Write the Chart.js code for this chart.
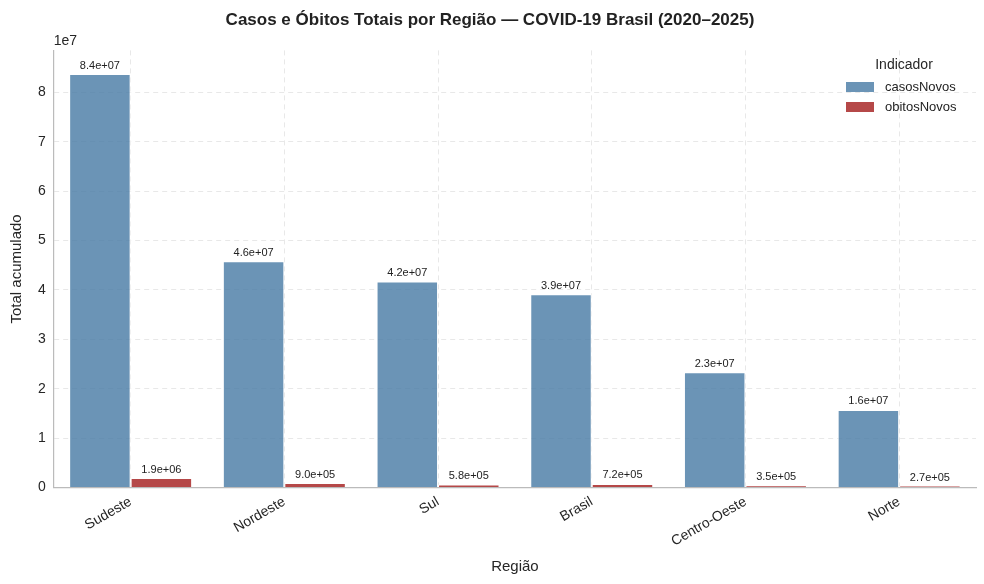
<!DOCTYPE html>
<html><head><meta charset="utf-8">
<script src="https://cdn.jsdelivr.net/npm/chart.js@4"></script>
<style>html,body{margin:0;background:#fff}#wrap{width:984px;height:584px}</style>
</head><body><div id="wrap"><canvas id="c"></canvas></div>
<script>
const regioes = ['Sudeste', 'Nordeste', 'Sul', 'Brasil', 'Centro-Oeste', 'Norte'];
const casosNovos = [8.37e7, 4.58e7, 4.17e7, 3.91e7, 2.33e7, 1.57e7];
const obitosNovos = [1.9e6, 9.0e5, 5.8e5, 7.2e5, 3.5e5, 2.7e5];
const yTicks = [0, 1, 2, 3, 4, 5, 6, 7, 8];

const font = "'Liberation Sans', Arial, sans-serif";
Chart.defaults.font.family = font;
Chart.defaults.color = '#262626';

// value labels above bars + "1e7" offset text + legend box
const extras = {
  id: 'extras',
  afterDatasetsDraw(chart) {
    const ctx = chart.ctx;
    ctx.save();
    ctx.font = '11px ' + font;
    ctx.fillStyle = '#222';
    ctx.textAlign = 'center';
    ctx.textBaseline = 'bottom';
    chart.data.datasets.forEach((ds, i) => {
      chart.getDatasetMeta(i).data.forEach((bar, j) => {
        ctx.fillText(ds.data[j].toExponential(1).replace(/e\+(\d)$/, 'e+0$1'), bar.x, bar.y - 3);
      });
    });
    const a = chart.chartArea;
    ctx.font = '14px ' + font;
    ctx.textAlign = 'left';
    ctx.fillStyle = '#262626';
    ctx.fillText('1e7', a.left, a.top - 2);
    // legend
    ctx.textAlign = 'center';
    ctx.textBaseline = 'middle';
    ctx.fillText('Indicador', 904, 65);
    ctx.font = '13px ' + font;
    ctx.textAlign = 'left';
    chart.data.datasets.forEach((ds, i) => {
      const y = 87 + i * 20;
      ctx.fillStyle = ds.backgroundColor;
      ctx.fillRect(846, y - 5, 28, 10);
      ctx.fillStyle = '#222';
      ctx.fillText(ds.label, 885, y);
    });
    ctx.restore();
  }
};

new Chart(document.getElementById('c'), {
  type: 'bar',
  data: {
    labels: regioes,
    datasets: [
      { label: 'casosNovos', data: casosNovos, backgroundColor: 'rgba(74,124,166,0.82)', borderColor: '#fff', borderWidth: 1 },
      { label: 'obitosNovos', data: obitosNovos, backgroundColor: '#b54848', borderColor: '#fff', borderWidth: 1 }
    ]
  },
  options: {
    responsive: true, maintainAspectRatio: false, animation: false,
    layout: { padding: { left: 4, right: 8, top: 0, bottom: 4 } },
    categoryPercentage: 0.8, barPercentage: 1.0,
    plugins: {
      legend: { display: false },
      tooltip: { enabled: false },
      title: { display: true, text: 'Casos e Óbitos Totais por Região — COVID-19 Brasil (2020–2025)',
        font: { size: 17, weight: 'bold' }, color: '#222', padding: { top: 10, bottom: 20 } }
    },
    scales: {
      x: {
        grid: { color: '#e8e8e8', offset: false, drawTicks: false },
        border: { color: '#bbb', width: 1.2, dash: [5, 4] },
        ticks: { maxRotation: 30, minRotation: 30, font: { size: 14 }, padding: 6 },
        title: { display: true, text: 'Região', font: { size: 15 }, padding: { top: 2 } }
      },
      y: {
        min: 0, max: 8.85e7,
        afterBuildTicks(axis) { axis.ticks = yTicks.map(v => ({ value: v * 1e7 })); },
        grid: { color: '#e8e8e8', drawTicks: false },
        border: { color: '#bbb', width: 1.2, dash: [5, 4] },
        ticks: { font: { size: 14 }, padding: 8, callback: v => String(v / 1e7) },
        title: { display: true, text: 'Total acumulado', font: { size: 15 } }
      }
    }
  },
  plugins: [extras]
});
</script>
</body></html>
